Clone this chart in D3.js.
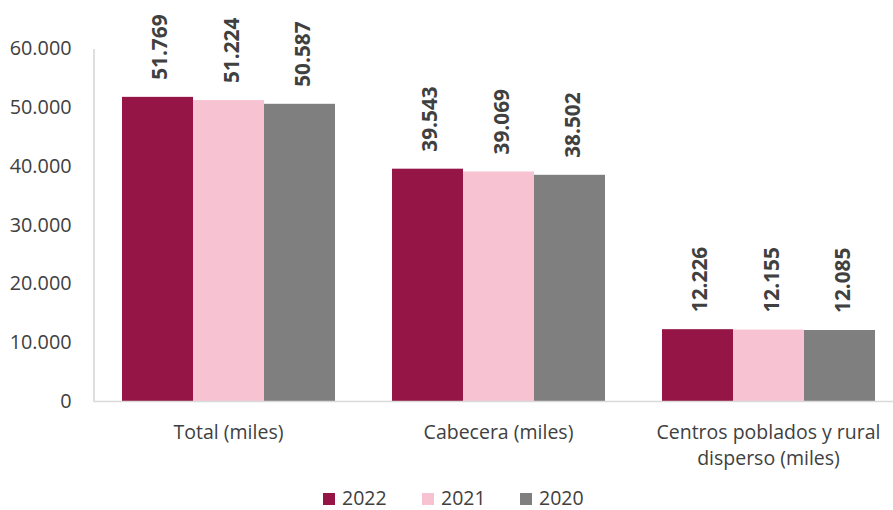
<!DOCTYPE html>
<html>
<head>
<meta charset="utf-8">
<script src="https://cdn.jsdelivr.net/npm/d3@7"></script>
<style>
  html, body { margin: 0; padding: 0; background: #fff; }
  svg { display: block; font-family: "Open Sans", "Noto Sans", sans-serif; }
</style>
</head>
<body>
<svg id="chart" width="893" height="510"></svg>
<script>
const categories = [["Total (miles)"], ["Cabecera (miles)"], ["Centros poblados y rural", "disperso (miles)"]];
const seriesNames = ["2022", "2021", "2020"];
const values2022 = [51769, 39543, 12226];
const values2021 = [51224, 39069, 12155];
const values2020 = [50587, 38502, 12085];
const yTicks = [0, 10000, 20000, 30000, 40000, 50000, 60000];
const colors = ["#951546", "#f7c3d3", "#7f7f7f"];

const seriesValues = [values2022, values2021, values2020];
const svg = d3.select("#chart");
const fmt = v => d3.format(",")(v).replace(/,/g, ".");

const x0 = d3.scaleBand().domain(d3.range(categories.length)).range([93.5, 903.5])
  .paddingInner(0.211).paddingOuter(0.1055);
const x1 = d3.scaleBand().domain(seriesNames).range([0, x0.bandwidth()]).padding(0);
const y = d3.scaleLinear().domain([0, 60000]).range([401, 48.5]);

// y axis
const yAxis = svg.append("g").attr("transform", "translate(93.5,0)")
  .call(d3.axisLeft(y).tickValues(yTicks).tickSize(0).tickPadding(22).tickFormat(fmt));
yAxis.select(".domain").attr("stroke", "#bfbfbf").attr("stroke-width", 1);
yAxis.selectAll("text").attr("font-size", "19.8px").attr("fill", "#404040")
  .attr("font-family", "'Open Sans', sans-serif");

// bars
categories.forEach((cat, i) => {
  const g = svg.append("g").attr("transform", `translate(${x0(i)},0)`);
  seriesNames.forEach((s, j) => {
    const v = seriesValues[j][i];
    g.append("rect")
      .attr("x", x1(s)).attr("width", x1.bandwidth())
      .attr("y", y(v)).attr("height", y(0) - y(v))
      .attr("fill", colors[j]);
    const cx = x1(s) + x1.bandwidth() / 2;
    g.append("text")
      .attr("transform", `translate(${cx + 10},${y(v) - 17}) rotate(-90)`)
      .attr("text-anchor", "start")
      .attr("font-size", "20.8px").attr("font-weight", "bold").attr("fill", "#404040")
      .text(fmt(v));
  });
});

// x axis line
svg.append("line").attr("x1", 93.5).attr("x2", 893).attr("y1", 401.5).attr("y2", 401.5)
  .attr("stroke", "#d9d9d9").attr("stroke-width", 1.5);

// category labels
categories.forEach((lines, i) => {
  const cx = x0(i) + x0.bandwidth() / 2;
  const t = svg.append("text").attr("text-anchor", "middle")
    .attr("font-size", "19.5px").attr("fill", "#404040");
  lines.forEach((l, k) => {
    t.append("tspan").attr("x", cx).attr("y", 439 + k * 26).text(l);
  });
});

// legend
const legendX = [323, 422, 520];
seriesNames.forEach((s, j) => {
  svg.append("rect").attr("x", legendX[j]).attr("y", 493).attr("width", 12).attr("height", 12)
    .attr("fill", colors[j]);
  svg.append("text").attr("x", legendX[j] + 19).attr("y", 504.5)
    .attr("font-size", "19.5px").attr("fill", "#404040").text(s);
});
</script>
</body>
</html>
